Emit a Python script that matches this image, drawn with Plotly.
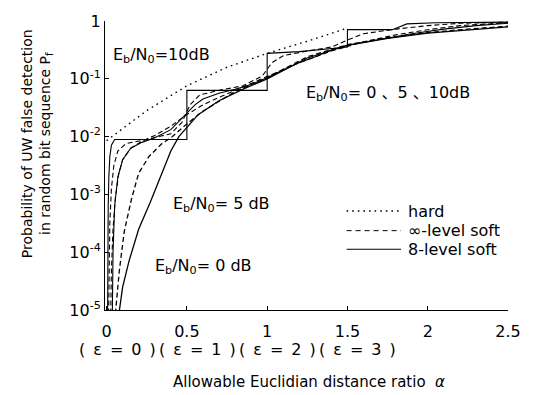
import plotly.graph_objects as go

# Allowable Euclidian distance ratio (alpha) and log10 of the false detection probability P_f

# hard decision
hard_x = [0, 0.25, 0.5, 0.75, 1.0, 1.25, 1.48]
hard_logp = [-2.07, -1.55, -1.12, -0.80, -0.56, -0.35, -0.14]

# 8-level soft decision, Eb/N0 = 10 dB (step shaped)
soft8_10_x = [0.006, 0.006, 0.01, 0.01, 0.014, 0.02, 0.03, 0.05, 0.5, 0.5, 1.0, 1.0,
              1.2, 1.4, 1.5, 1.5, 1.78, 1.87, 2.05, 2.5]
soft8_10_logp = [-5.2, -4.0, -4.0, -3.2, -2.7, -2.35, -2.15, -2.05, -2.05, -1.2, -1.2, -0.56,
                 -0.53, -0.48, -0.45, -0.15, -0.15, -0.05, -0.03, -0.02]

# infinite-level soft decision, Eb/N0 = 10 dB
softinf_10_x = [0.012, 0.016, 0.02, 0.03, 0.045, 0.07, 0.12, 0.25, 0.4, 0.47, 0.52, 0.58,
                0.7, 0.85, 0.97, 1.03, 1.1, 1.25, 1.4, 1.5, 1.6, 1.8, 2.0, 2.2, 2.5]
softinf_10_logp = [-5.2, -4.2, -3.5, -2.9, -2.5, -2.25, -2.12, -2.05, -1.95, -1.75, -1.45, -1.28,
                   -1.2, -1.12, -0.95, -0.72, -0.6, -0.52, -0.45, -0.33, -0.22, -0.14, -0.08, -0.04, -0.02]

# 8-level soft decision, Eb/N0 = 5 dB
soft8_5_x = [0.035, 0.04, 0.05, 0.07, 0.1, 0.15, 0.22, 0.3, 0.4, 0.5, 0.55, 0.6, 0.7, 0.8,
             0.9, 1.0, 1.1, 1.2, 1.3, 1.4, 1.5, 1.7, 1.9, 2.1, 2.3, 2.5]
soft8_5_logp = [-5.2, -4.0, -3.2, -2.7, -2.4, -2.2, -2.1, -2.02, -1.88, -1.6, -1.45, -1.35,
                -1.25, -1.18, -1.1, -0.98, -0.85, -0.72, -0.62, -0.5, -0.42, -0.32, -0.22,
                -0.14, -0.08, -0.04]

# infinite-level soft decision, Eb/N0 = 5 dB
softinf_5_x = [0.025, 0.03, 0.04, 0.055, 0.075, 0.1, 0.15, 0.22, 0.3, 0.4, 0.5, 0.6, 0.7,
               0.8, 0.9, 1.0, 1.2, 1.4, 1.6, 1.8, 2.0, 2.2, 2.5]
softinf_5_logp = [-5.2, -4.3, -3.6, -3.05, -2.65, -2.4, -2.2, -2.08, -1.98, -1.82, -1.62, -1.45,
                  -1.32, -1.2, -1.08, -0.95, -0.72, -0.52, -0.36, -0.24, -0.15, -0.08, -0.03]

# 8-level soft decision, Eb/N0 = 0 dB
soft8_0_x = [0.07, 0.1, 0.14, 0.2, 0.27, 0.33, 0.4, 0.45, 0.57, 0.7, 0.85, 1.0, 1.25, 1.5,
             1.75, 2.0, 2.25, 2.5]
soft8_0_logp = [-5.2, -4.6, -4.15, -3.6, -3.15, -2.75, -2.25, -2.0, -1.62, -1.38, -1.18, -1.0,
                -0.64, -0.42, -0.3, -0.21, -0.15, -0.1]

# infinite-level soft decision, Eb/N0 = 0 dB
softinf_0_x = [0.05, 0.065, 0.08, 0.11, 0.155, 0.2, 0.265, 0.345, 0.41, 0.5, 0.6, 0.8, 1.0,
               1.25, 1.5, 1.75, 2.0, 2.25, 2.5]
softinf_0_logp = [-5.2, -4.7, -4.3, -3.64, -3.08, -2.63, -2.34, -2.12, -2.0, -1.78, -1.56,
                  -1.22, -0.98, -0.62, -0.41, -0.29, -0.2, -0.14, -0.09]

x_ticks = [0, 0.5, 1, 1.5, 2, 2.5]
x_ticktext = ["0", "0.5", "1", "1.5", "2", "2.5"]
eps_ticks = [0, 0.5, 1, 1.5]
eps_values = ["0", "1", "2", "3"]
y_ticks = [1e-5, 1e-4, 1e-3, 1e-2, 1e-1, 1]
y_ticktext = ["10<sup>-5</sup>", "10<sup>-4</sup>", "10<sup>-3</sup>",
              "10<sup>-2</sup>", "10<sup>-1</sup>", "1"]

FONT = "DejaVu Sans"
DOT = "1.6px,4px"
DASH = "5px,3px"
SP = "\u2002"  # en space keeps the wide spacing of the threshold labels

W, H = 533, 395
ML, MR, MT, MB = 105, 21, 15, 85
PW, PH = W - ML - MR, H - MT - MB


def px_x(px):
    # pixel column -> paper fraction of the plotting area
    return (px - ML) / PW


def px_y(py):
    # pixel row -> paper fraction of the plotting area
    return (H - MB - py) / PH


fig = go.Figure()


def add_curve(xs, logp, dash, width=1.1):
    fig.add_trace(go.Scatter(
        x=xs, y=[10 ** v for v in logp], mode="lines",
        line=dict(color="black", width=width, dash=dash),
        showlegend=False, hoverinfo="skip"))


add_curve(hard_x, hard_logp, DOT, 1.4)
add_curve(soft8_10_x, soft8_10_logp, "solid")
add_curve(softinf_10_x, softinf_10_logp, DASH)
add_curve(soft8_5_x, soft8_5_logp, "solid")
add_curve(softinf_5_x, softinf_5_logp, DASH)
add_curve(soft8_0_x, soft8_0_logp, "solid", 1.3)
add_curve(softinf_0_x, softinf_0_logp, DASH, 1.3)

# Curve labels
labels = [
    (111, 50, "E<sub>b</sub>/N<sub>0</sub>=10dB"),
    (172, 202, "E<sub>b</sub>/N<sub>0</sub>= 5 dB"),
    (153, 266, "E<sub>b</sub>/N<sub>0</sub>= 0 dB"),
    (306, 89, "E<sub>b</sub>/N<sub>0</sub>= 0 、5 、10dB"),
]
for px, py, txt in labels:
    fig.add_annotation(x=px_x(px), y=px_y(py), xref="paper", yref="paper",
                       text=txt, showarrow=False, xanchor="left", yanchor="middle",
                       font=dict(family=FONT + ", Noto Sans CJK JP", size=16, color="black"))

# Legend drawn as line samples with text
legend_rows = [(209, DOT, 1.6, "hard"), (229, "5px,4px", 1.0, "∞-level soft"),
               (248, "solid", 1.1, "8-level soft")]
for py, dash, lw, txt in legend_rows:
    fig.add_shape(type="line", xref="paper", yref="paper",
                  x0=px_x(349), x1=px_x(404), y0=px_y(py), y1=px_y(py),
                  line=dict(color="black", width=lw, dash=dash))
    fig.add_annotation(x=px_x(409), y=px_y(py), xref="paper", yref="paper",
                       text=txt, showarrow=False, xanchor="left", yanchor="middle",
                       font=dict(family=FONT, size=16, color="black"))

# Second row of x labels: Hamming thresholds
for xv, ev in zip(eps_ticks, eps_values):
    txt = "(" + SP + "ε" + SP + "=" + SP + ev + SP + ")"
    fig.add_annotation(x=xv + 0.065, y=px_y(350), xref="x", yref="paper",
                       text=txt, showarrow=False, xanchor="center", yanchor="middle",
                       font=dict(family=FONT, size=16, color="black"))

# Axis titles
fig.add_annotation(x=px_x(311), y=px_y(383), xref="paper", yref="paper",
                   text="Allowable Euclidian distance ratio  <i>α</i>", showarrow=False,
                   xanchor="center", yanchor="middle",
                   font=dict(family=FONT, size=15, color="black"))
fig.add_annotation(x=px_x(37), y=px_y(140), xref="paper", yref="paper",
                   text="Probability of UW false detection<br>in random bit sequence P<sub>f</sub>",
                   showarrow=False, textangle=-90, xanchor="center", yanchor="middle",
                   font=dict(family=FONT, size=14, color="black"))

fig.update_layout(
    width=W, height=H,
    margin=dict(l=ML, r=MR, t=MT, b=MB),
    paper_bgcolor="white", plot_bgcolor="white",
    font=dict(family=FONT, size=16, color="black"),
    showlegend=False,
    xaxis=dict(range=[-0.01, 2.5], tickvals=x_ticks, ticktext=x_ticktext,
               showline=True, linecolor="black", linewidth=1, ticks="inside", ticklen=4,
               tickcolor="black", showgrid=False, zeroline=False, ticklabelstandoff=7),
    yaxis=dict(type="log", range=[-5, 0], tickvals=y_ticks, ticktext=y_ticktext,
               showline=True, linecolor="black", linewidth=1, ticks="inside", ticklen=4,
               tickcolor="black", showgrid=False, zeroline=False),
)

fig.write_html("out.html")
